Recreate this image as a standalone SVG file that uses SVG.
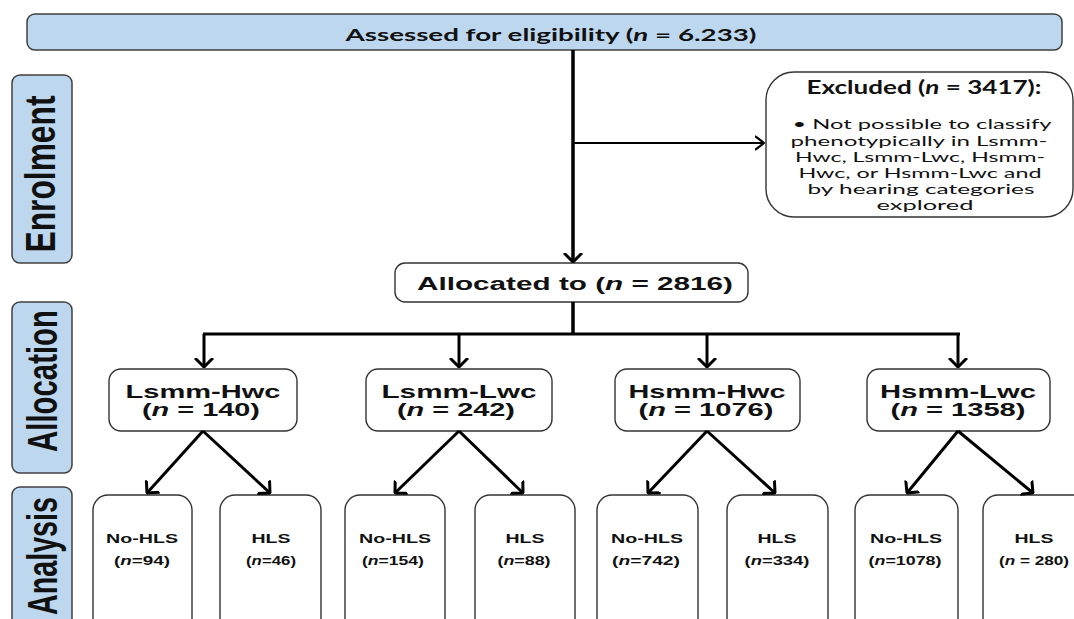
<svg xmlns="http://www.w3.org/2000/svg" width="1074" height="619" viewBox="0 0 1074 619">
<style>
.lbl{fill:#bdd7ee;stroke:#404040;stroke-width:1.5}
.box{fill:#fff;stroke:#333;stroke-width:1.4}
.side{font-family:"Liberation Sans",Arial,sans-serif;font-weight:bold;font-size:42px;fill:#111}
.cand{font-family:Lato,"Open Sans",sans-serif;fill:#111}
.ar{font-family:"Liberation Sans",Arial,sans-serif;font-weight:bold;fill:#111;text-anchor:middle}
.c{fill:none;stroke:#000;stroke-linecap:butt}
</style>
<defs>
<marker id="ah" viewBox="0 0 10 20" markerUnits="userSpaceOnUse" markerWidth="10" markerHeight="20" refX="9" refY="10" orient="auto">
<path d="M0,1 L9,10 L0,19" fill="none" stroke="#000" stroke-width="3"/>
</marker>
<marker id="ahs" viewBox="0 0 10 16" markerUnits="userSpaceOnUse" markerWidth="10" markerHeight="16" refX="9" refY="8" orient="auto">
<path d="M0,1 L9,8 L0,15" fill="none" stroke="#000" stroke-width="2.2"/>
</marker>
</defs>

<g id="top">
<rect class="lbl" x="27" y="14" width="1035" height="36" rx="8"/>
<text class="cand" x="551" y="41" text-anchor="middle" font-size="17" font-weight="bold" textLength="411" lengthAdjust="spacingAndGlyphs">Assessed for eligibility (<tspan font-style="italic">n</tspan> = 6.233)</text>
</g>

<g id="enrolment">
<rect class="lbl" x="12" y="75" width="60" height="188" rx="8"/>
<text class="side" transform="translate(55,174) rotate(-90)" text-anchor="middle" textLength="157" lengthAdjust="spacingAndGlyphs">Enrolment</text>
</g>
<g id="allocation">
<rect class="lbl" x="12" y="302" width="60" height="171" rx="8"/>
<text class="side" transform="translate(57,381) rotate(-90)" text-anchor="middle" textLength="142" lengthAdjust="spacingAndGlyphs">Allocation</text>
</g>
<g id="analysis">
<rect class="lbl" x="12" y="487" width="60" height="150" rx="8"/>
<text class="side" transform="translate(57,556) rotate(-90)" text-anchor="middle" textLength="118" lengthAdjust="spacingAndGlyphs">Analysis</text>
</g>

<g id="excluded">
<rect class="box" x="766" y="72" width="307" height="145" rx="28"/>
<text class="cand" x="924" y="94" text-anchor="middle" font-size="18" font-weight="bold" textLength="235" lengthAdjust="spacingAndGlyphs">Excluded (<tspan font-style="italic">n</tspan> = 3417):</text>
<g text-anchor="middle">
<text class="cand" x="922" y="129" font-size="14" textLength="259" lengthAdjust="spacingAndGlyphs">• Not possible to classify</text>
<text class="cand" x="919" y="146" font-size="14" textLength="257" lengthAdjust="spacingAndGlyphs">phenotypically in Lsmm-</text>
<text class="cand" x="920" y="162" font-size="14" textLength="250" lengthAdjust="spacingAndGlyphs">Hwc, Lsmm-Lwc, Hsmm-</text>
<text class="cand" x="920" y="178" font-size="14" textLength="243" lengthAdjust="spacingAndGlyphs">Hwc, or Hsmm-Lwc and</text>
<text class="cand" x="921" y="194" font-size="14" textLength="227" lengthAdjust="spacingAndGlyphs">by hearing categories</text>
<text class="cand" x="925" y="210" font-size="14" textLength="97" lengthAdjust="spacingAndGlyphs">explored</text>
</g>
</g>

<g id="allocated">
<rect class="box" x="395" y="263" width="353" height="39" rx="10"/>
<text class="ar" x="575" y="290" font-size="18" textLength="316" lengthAdjust="spacingAndGlyphs">Allocated to (<tspan font-style="italic">n</tspan> = 2816)</text>
</g>

<g id="g-lsmm-hwc">
<rect class="box" x="109" y="369" width="188" height="62" rx="12"/>
<text class="ar" x="203" y="398" font-size="18" textLength="155" lengthAdjust="spacingAndGlyphs">Lsmm-Hwc</text>
<text class="ar" x="201" y="416" font-size="18" textLength="118" lengthAdjust="spacingAndGlyphs">(<tspan font-style="italic">n</tspan> = 140)</text>
</g>
<g id="g-lsmm-lwc">
<rect class="box" x="366" y="369" width="186" height="62" rx="12"/>
<text class="ar" x="459" y="398" font-size="18" textLength="155" lengthAdjust="spacingAndGlyphs">Lsmm-Lwc</text>
<text class="ar" x="456" y="416" font-size="18" textLength="118" lengthAdjust="spacingAndGlyphs">(<tspan font-style="italic">n</tspan> = 242)</text>
</g>
<g id="g-hsmm-hwc">
<rect class="box" x="615" y="369" width="185" height="62" rx="12"/>
<text class="ar" x="707" y="398" font-size="18" textLength="157" lengthAdjust="spacingAndGlyphs">Hsmm-Hwc</text>
<text class="ar" x="706" y="416" font-size="18" textLength="135" lengthAdjust="spacingAndGlyphs">(<tspan font-style="italic">n</tspan> = 1076)</text>
</g>
<g id="g-hsmm-lwc">
<rect class="box" x="867" y="369" width="183" height="62" rx="12"/>
<text class="ar" x="958" y="398" font-size="18" textLength="156" lengthAdjust="spacingAndGlyphs">Hsmm-Lwc</text>
<text class="ar" x="958" y="416" font-size="18" textLength="135" lengthAdjust="spacingAndGlyphs">(<tspan font-style="italic">n</tspan> = 1358)</text>
</g>

<g id="a1"><rect class="box" x="93" y="495" width="99" height="150" rx="15"/>
<text class="ar" x="142" y="543" font-size="13" textLength="72" lengthAdjust="spacingAndGlyphs">No-HLS</text>
<text class="ar" x="142" y="565" font-size="13" textLength="56" lengthAdjust="spacingAndGlyphs">(<tspan font-style="italic">n</tspan>=94)</text></g>
<g id="a2"><rect class="box" x="220" y="495" width="101" height="150" rx="15"/>
<text class="ar" x="271" y="543" font-size="13" textLength="39" lengthAdjust="spacingAndGlyphs">HLS</text>
<text class="ar" x="271" y="565" font-size="13" textLength="50" lengthAdjust="spacingAndGlyphs">(<tspan font-style="italic">n</tspan>=46)</text></g>
<g id="a3"><rect class="box" x="345" y="495" width="100" height="150" rx="15"/>
<text class="ar" x="395" y="543" font-size="13" textLength="72" lengthAdjust="spacingAndGlyphs">No-HLS</text>
<text class="ar" x="393" y="565" font-size="13" textLength="62" lengthAdjust="spacingAndGlyphs">(<tspan font-style="italic">n</tspan>=154)</text></g>
<g id="a4"><rect class="box" x="475" y="495" width="100" height="150" rx="15"/>
<text class="ar" x="525" y="543" font-size="13" textLength="39" lengthAdjust="spacingAndGlyphs">HLS</text>
<text class="ar" x="524" y="565" font-size="13" textLength="53" lengthAdjust="spacingAndGlyphs">(<tspan font-style="italic">n</tspan>=88)</text></g>
<g id="a5"><rect class="box" x="597" y="495" width="101" height="150" rx="15"/>
<text class="ar" x="647" y="543" font-size="13" textLength="72" lengthAdjust="spacingAndGlyphs">No-HLS</text>
<text class="ar" x="646" y="565" font-size="13" textLength="68" lengthAdjust="spacingAndGlyphs">(<tspan font-style="italic">n</tspan>=742)</text></g>
<g id="a6"><rect class="box" x="727" y="495" width="101" height="150" rx="15"/>
<text class="ar" x="777" y="543" font-size="13" textLength="39" lengthAdjust="spacingAndGlyphs">HLS</text>
<text class="ar" x="777" y="565" font-size="13" textLength="65" lengthAdjust="spacingAndGlyphs">(<tspan font-style="italic">n</tspan>=334)</text></g>
<g id="a7"><rect class="box" x="855" y="495" width="103" height="150" rx="15"/>
<text class="ar" x="906" y="543" font-size="13" textLength="72" lengthAdjust="spacingAndGlyphs">No-HLS</text>
<text class="ar" x="905" y="565" font-size="13" textLength="73" lengthAdjust="spacingAndGlyphs">(<tspan font-style="italic">n</tspan>=1078)</text></g>
<g id="a8"><rect class="box" x="983" y="495" width="110" height="150" rx="15"/>
<text class="ar" x="1034" y="543" font-size="13" textLength="39" lengthAdjust="spacingAndGlyphs">HLS</text>
<text class="ar" x="1034" y="565" font-size="13" textLength="70" lengthAdjust="spacingAndGlyphs">(<tspan font-style="italic">n</tspan> = 280)</text></g>

<g id="connectors">
<line class="c" x1="573" y1="50" x2="573" y2="262" stroke-width="3.5" marker-end="url(#ah)"/>
<line class="c" x1="573" y1="143" x2="764" y2="143" stroke-width="2" marker-end="url(#ahs)"/>
<line class="c" x1="573" y1="302" x2="573" y2="335" stroke-width="3.5"/>
<line class="c" x1="203" y1="334" x2="960" y2="334" stroke-width="3"/>
<line class="c" x1="204" y1="334" x2="204" y2="367" stroke-width="3" marker-end="url(#ah)"/>
<line class="c" x1="459" y1="334" x2="459" y2="367" stroke-width="3" marker-end="url(#ah)"/>
<line class="c" x1="707" y1="334" x2="707" y2="367" stroke-width="3" marker-end="url(#ah)"/>
<line class="c" x1="958" y1="334" x2="958" y2="367" stroke-width="3" marker-end="url(#ah)"/>
<line class="c" x1="203" y1="431" x2="147" y2="493" stroke-width="3" marker-end="url(#ah)"/>
<line class="c" x1="203" y1="431" x2="270" y2="493" stroke-width="3" marker-end="url(#ah)"/>
<line class="c" x1="459" y1="431" x2="395" y2="493" stroke-width="3" marker-end="url(#ah)"/>
<line class="c" x1="459" y1="431" x2="523" y2="493" stroke-width="3" marker-end="url(#ah)"/>
<line class="c" x1="707" y1="431" x2="648" y2="493" stroke-width="3" marker-end="url(#ah)"/>
<line class="c" x1="707" y1="431" x2="775" y2="493" stroke-width="3" marker-end="url(#ah)"/>
<line class="c" x1="958" y1="431" x2="907" y2="493" stroke-width="3" marker-end="url(#ah)"/>
<line class="c" x1="958" y1="431" x2="1033" y2="493" stroke-width="3" marker-end="url(#ah)"/>
</g>
</svg>
